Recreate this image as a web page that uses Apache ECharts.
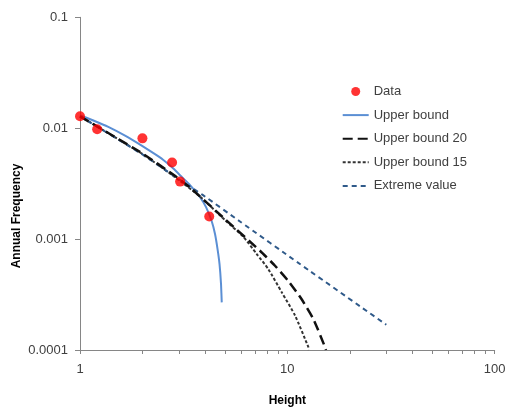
<!DOCTYPE html>
<html><head><meta charset="utf-8">
<script src="https://cdn.jsdelivr.net/npm/echarts@6/dist/echarts.min.js"></script>
<style>html,body{margin:0;padding:0;background:#fff}#c{width:508px;height:408px}</style>
</head><body><div id="c"></div>
<script>
// Observed data
const dataHeight = [1, 1.21, 2.0, 2.78, 3.04, 4.2];
const dataFreq   = [0.0128, 0.0098, 0.0081, 0.0049, 0.0033, 0.0016];

// Upper bound (solid blue)
const upperHeight = [1, 1.168, 1.369, 1.649, 1.984, 2.30, 2.514, 2.779, 3.036, 3.394, 3.793, 4.054, 4.318, 4.479, 4.606, 4.709, 4.788, 4.826];
const upperFreq   = [0.0131, 0.01168, 0.01027, 0.00856, 0.00696, 0.00583, 0.0052, 0.00445, 0.00377, 0.00307, 0.00239, 0.00194, 0.00145, 0.00111, 0.000813, 0.000595, 0.000393, 0.000269];

// Upper bound 20 (long dash black)
const ub20Height = [1, 1.99, 2.87, 3.39, 5.01, 7.38, 8.72, 10.1, 11.7, 13.35, 15.2, 15.35];
const ub20Freq   = [0.0128, 0.00595, 0.00372, 0.00292, 0.00151, 0.000785, 0.000575, 0.00042, 0.000288, 0.00019, 0.000106, 0.0001];

// Upper bound 15 (short dash)
const ub15Height = [1, 1.99, 2.87, 3.79, 5.01, 6.13, 7.12, 8.09, 9.40, 10.9, 12.63, 12.7];
const ub15Freq   = [0.0128, 0.00589, 0.00362, 0.00242, 0.00148, 0.00105, 0.000733, 0.000537, 0.000331, 0.000204, 0.000106, 0.0001];

// Extreme value (dashed blue)
const evHeight = [1, 1.99, 2.87, 3.92, 5.91, 11.5, 30];
const evFreq   = [0.0128, 0.00583, 0.00366, 0.00249, 0.00144, 0.000596, 0.000169];

// Axis ticks / labels
const xTickValues  = [1,2,3,4,5,6,7,8,9,10,20,30,40,50,60,70,80,90,100];
const xLabelValues = [1, 10, 100];
const yLabelValues = [0.0001, 0.001, 0.01, 0.1];

const zip = (a, b) => a.map((v, i) => [v, b[i]]);
const fmt = v => String(parseFloat(Number(v).toPrecision(6)));

const chart = echarts.init(document.getElementById('c'), null, {renderer: 'canvas'});
const axisColor = '#868686';
const labelColor = '#404040';
const font = 'Liberation Sans, Arial, sans-serif';
const hideSym = {opacity: 0};

chart.setOption({
  animation: false,
  backgroundColor: '#fff',
  textStyle: {fontFamily: font},
  grid: {left: 80, right: 13.3, top: 17.3, bottom: 58, outerBoundsMode: 'none', containLabel: false},
  legend: {
    orient: 'vertical',
    left: 341.7, top: 85, padding: 0,
    itemWidth: 26, itemHeight: 9, itemGap: 10.6,
    textStyle: {fontSize: 13, color: labelColor, fontFamily: font},
    data: [
      {name: 'Data'},
      {name: 'Upper bound', itemStyle: hideSym},
      {name: 'Upper bound 20', itemStyle: hideSym},
      {name: 'Upper bound 15', itemStyle: hideSym},
      {name: 'Extreme value', itemStyle: hideSym}
    ]
  },
  xAxis: {
    type: 'log', logBase: 10, min: 1, max: 100,
    axisLine: {show: true, lineStyle: {color: axisColor, width: 1}},
    axisTick: {show: true, length: 4, lineStyle: {color: axisColor}, customValues: xTickValues},
    axisLabel: {customValues: xLabelValues, formatter: fmt, fontSize: 13, color: labelColor, margin: 13, fontFamily: font},
    splitLine: {show: false}, minorTick: {show: false},
    name: 'Height', nameLocation: 'middle', nameGap: 45,
    nameTextStyle: {fontSize: 12, fontWeight: 'bold', color: '#000', fontFamily: font}
  },
  yAxis: {
    type: 'log', logBase: 10, min: 0.0001, max: 0.1,
    axisLine: {show: true, lineStyle: {color: axisColor, width: 1}},
    axisTick: {show: true, length: 5, lineStyle: {color: axisColor}, customValues: yLabelValues},
    axisLabel: {customValues: yLabelValues, formatter: fmt, fontSize: 13, color: labelColor, margin: 12, fontFamily: font},
    splitLine: {show: false}
  },
  graphic: [{
    type: 'text', x: 17, y: 216, rotation: Math.PI / 2,
    style: {text: 'Annual Frequency', font: 'bold 12px ' + font, fill: '#000', align: 'center', verticalAlign: 'middle'}
  }],
  series: [
    {name: 'Data', type: 'scatter', data: zip(dataHeight, dataFreq), symbol: 'circle', symbolSize: 10,
     itemStyle: {color: '#ff0000'}, z: 10},
    {name: 'Upper bound', type: 'line', data: zip(upperHeight, upperFreq), symbol: 'none', smooth: 0.15,
     lineStyle: {color: '#5b8fd4', width: 2}, itemStyle: {color: '#5b8fd4'}, z: 3},
    {name: 'Upper bound 20', type: 'line', data: zip(ub20Height, ub20Freq), symbol: 'none', smooth: 0.2,
     lineStyle: {color: '#111', width: 2.5, type: [10, 5]}, itemStyle: {color: '#111'}, z: 5},
    {name: 'Upper bound 15', type: 'line', data: zip(ub15Height, ub15Freq), symbol: 'none', smooth: 0.2,
     lineStyle: {color: '#333', width: 2, type: [3, 2]}, itemStyle: {color: '#333'}, z: 4},
    {name: 'Extreme value', type: 'line', data: zip(evHeight, evFreq), symbol: 'none', smooth: 0.2,
     lineStyle: {color: '#2f5a8a', width: 2, type: [5, 4]}, itemStyle: {color: '#2f5a8a'}, z: 4}
  ]
});
</script>
</body></html>
